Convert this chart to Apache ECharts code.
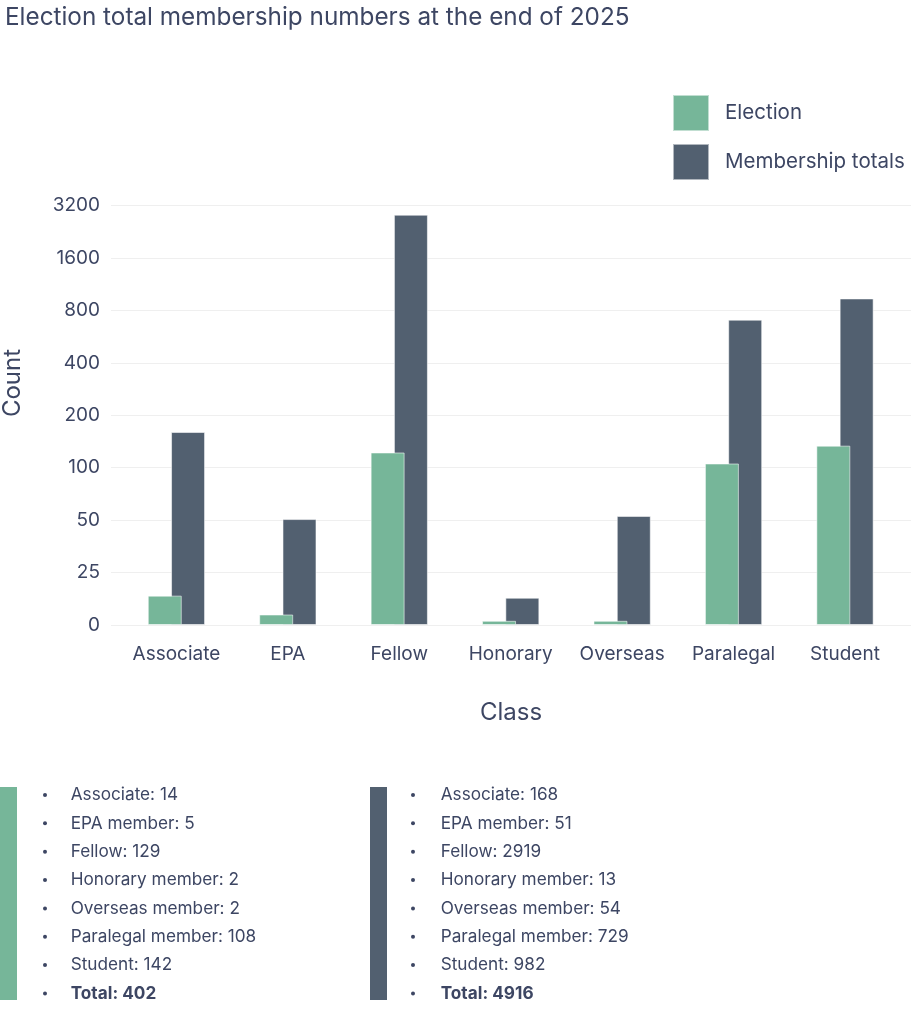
<!DOCTYPE html>
<html>
<head>
<meta charset="utf-8">
<script src="https://cdn.jsdelivr.net/npm/echarts@6/dist/echarts.min.js"></script>
<style>
  html, body { margin: 0; padding: 0; background: #fff; }
  #chart { width: 911px; height: 1024px; }
</style>
</head>
<body>
<div id="chart"></div>
<script>
// classes along the x axis
const classes = ['Associate', 'EPA', 'Fellow', 'Honorary', 'Overseas', 'Paralegal', 'Student'];
// names used in the lists under the chart
const listNames = ['Associate', 'EPA member', 'Fellow', 'Honorary member', 'Overseas member', 'Paralegal member', 'Student'];
const election = [14, 5, 129, 2, 2, 108, 142];
const membership = [168, 51, 2919, 13, 54, 729, 982];
// y tick labels, evenly spaced on the axis
const yTicks = [0, 25, 50, 100, 200, 400, 800, 1600, 3200];

const textColor = '#3d4663';
const green = '#76b699';
const slate = '#526070';
const font = 'Inter';

// count -> tick index space (linear between neighbouring ticks)
function toAxis(v) {
  for (let i = 0; i < yTicks.length - 1; i++) {
    if (v <= yTicks[i + 1]) {
      return i + (v - yTicks[i]) / (yTicks[i + 1] - yTicks[i]);
    }
  }
  return yTicks.length - 1;
}

// bullet list with coloured bar on the left
function listGraphics(values, color, barX, bulletX, textX) {
  const total = values.reduce((a, b) => a + b, 0);
  const lines = listNames.map((n, i) => n + ': ' + values[i]);
  lines.push('Total: ' + total);
  const els = [{
    type: 'rect',
    shape: { x: barX, y: 787, width: 17, height: 213 },
    style: { fill: color }
  }];
  lines.forEach((t, i) => {
    const y = 795 + i * 28.35;
    const last = i === lines.length - 1;
    els.push({ type: 'circle', shape: { cx: bulletX, cy: y, r: 2 }, style: { fill: textColor } });
    els.push({
      type: 'text', x: textX, y: y,
      style: {
        text: t, fill: textColor, fontFamily: font, fontSize: 17.2,
        fontWeight: last ? 'bold' : 'normal', verticalAlign: 'middle'
      }
    });
  });
  return els;
}

const chart = echarts.init(document.getElementById('chart'));

const option = {
  animation: false,
  backgroundColor: '#fff',
  title: {
    text: 'Election total membership numbers at the end of 2025',
    left: 0,
    top: 1,
    textStyle: { fontFamily: font, fontSize: 24.3, fontWeight: 'normal', color: textColor }
  },
  legend: {
    orient: 'vertical',
    left: 672,
    top: 94,
    padding: 0,
    itemWidth: 36,
    itemHeight: 36,
    itemGap: 11,
    icon: 'rect',
    data: ['Election', 'Membership totals'],
    textStyle: { fontFamily: font, fontSize: 20.5, color: textColor, padding: [0, 0, 0, 11] }
  },
  grid: [
    // gridlines + y labels
    { left: 111, right: 0, top: 205.5, bottom: 399 },
    // bars
    { left: 120.7, right: 10.3, top: 205.5, bottom: 399 }
  ],
  xAxis: [
    {
      type: 'category', gridIndex: 0, data: classes,
      axisLine: { show: false }, axisTick: { show: false }, axisLabel: { show: false },
      name: 'Class', nameLocation: 'middle', nameGap: 76,
      nameTextStyle: { fontFamily: font, fontSize: 24, color: textColor }
    },
    {
      type: 'category', gridIndex: 1, data: classes,
      axisLine: { show: false }, axisTick: { show: false },
      axisLabel: { interval: 0, fontFamily: font, fontSize: 19, color: textColor, margin: 20 }
    }
  ],
  yAxis: [
    {
      type: 'value', gridIndex: 0, min: 0, max: yTicks.length - 1, interval: 1,
      axisLine: { show: false }, axisTick: { show: false },
      axisLabel: {
        fontFamily: font, fontSize: 19, color: textColor, margin: 11,
        formatter: v => String(yTicks[v])
      },
      splitLine: { lineStyle: { color: '#efefef', width: 1 } }
    },
    {
      type: 'value', gridIndex: 1, min: 0, max: yTicks.length - 1, interval: 1,
      show: false, splitLine: { show: false }
    }
  ],
  series: [
    {
      name: 'Election', type: 'bar', xAxisIndex: 1, yAxisIndex: 1,
      barWidth: 34, barGap: '-31.5%', z: 3,
      itemStyle: { color: green, borderColor: 'rgba(255,255,255,0.55)', borderWidth: 1 },
      data: election.map(v => ({ value: toAxis(v), count: v }))
    },
    {
      name: 'Membership totals', type: 'bar', xAxisIndex: 1, yAxisIndex: 1,
      barWidth: 34, barGap: '-31.5%', z: 2,
      itemStyle: { color: slate, borderColor: 'rgba(255,255,255,0.55)', borderWidth: 1 },
      data: membership.map(v => ({ value: toAxis(v), count: v }))
    }
  ],
  graphic: [
    {
      type: 'text', x: 13, y: 383, rotation: Math.PI / 2,
      style: {
        text: 'Count', fill: textColor, fontFamily: font, fontSize: 24,
        align: 'center', verticalAlign: 'middle'
      }
    },
    ...listGraphics(election, green, 0, 45, 70.7),
    ...listGraphics(membership, slate, 370, 413, 440.7)
  ]
};

chart.setOption(option);
</script>
</body>
</html>
